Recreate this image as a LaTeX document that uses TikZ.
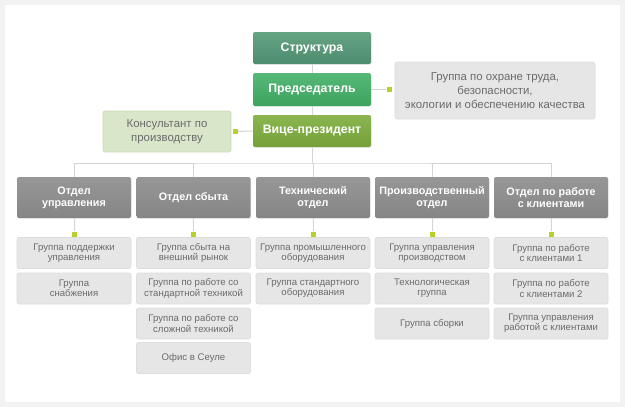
\documentclass[tikz,border=0pt]{standalone}
\usepackage{fontspec}
\setmainfont{Liberation Sans}
\usetikzlibrary{shadows}
\definecolor{bgout}{HTML}{F2F2F2}
\definecolor{lin}{HTML}{D4D4D4}
\definecolor{sqc}{HTML}{B8CF2C}
\definecolor{txg}{HTML}{6B6B6B}
\definecolor{strT}{HTML}{64A584}
\definecolor{strB}{HTML}{4D8B6D}
\definecolor{preT}{HTML}{55B878}
\definecolor{preB}{HTML}{3EA35F}
\definecolor{viceT}{HTML}{8BB64F}
\definecolor{viceB}{HTML}{75A13A}
\definecolor{depT}{HTML}{979797}
\definecolor{depB}{HTML}{858585}
\definecolor{subF}{HTML}{E6E6E6}
\definecolor{subD}{HTML}{DDDDDD}
\definecolor{consF}{HTML}{D9E6C9}
\definecolor{consD}{HTML}{CCDBBA}
\tikzset{
  topbox/.style={rectangle, rounded corners=2pt, minimum width=118pt, minimum height=32pt,
    text=white, font=\fontsize{12.3}{14}\selectfont\bfseries, inner sep=0pt,
    drop shadow={opacity=0.12, shadow xshift=0.6pt, shadow yshift=-0.8pt}},
  deptbox/.style={rectangle, rounded corners=2pt, minimum width=114pt, minimum height=41pt,
    text=white, font=\fontsize{10.8}{12.3}\selectfont\bfseries, align=center, inner sep=0pt,
    top color=depT, bottom color=depB,
    drop shadow={opacity=0.12, shadow xshift=0.6pt, shadow yshift=-0.8pt}},
  subbox/.style={rectangle, rounded corners=2pt, minimum width=114pt, minimum height=31pt,
    fill=subF, draw=subD, line width=0.6pt, text=txg,
    font=\fontsize{9.6}{10.3}\selectfont, align=center, inner sep=0pt},
  sidebox/.style={rectangle, rounded corners=2pt, text=txg,
    font=\fontsize{11.4}{14}\selectfont, align=center, inner sep=0pt, line width=0.6pt},
  sq/.style={rectangle, fill=sqc, minimum size=5pt, inner sep=0pt},
  conn/.style={draw=lin, line width=1pt}
}
\begin{document}
\begin{tikzpicture}[x=1pt,y=-1pt]
\useasboundingbox (0,0) rectangle (625,407);
\fill[bgout] (0,0) rectangle (625,407);
\fill[white] (5,5) rectangle (620,402);
% top chain
\node[topbox, top color=strT, bottom color=strB] (str) at (312,48) {Структура};
\node[topbox, top color=preT, bottom color=preB, minimum height=33pt] (pred) at (312,89.5) {Председатель};
\node[topbox, top color=viceT, bottom color=viceB] (vice) at (312,131) {Вице-президент};
\node[sidebox, fill=subF, draw=subD, minimum width=200pt, minimum height=57pt] (safety) at (495,90.5)
  {Группа по охране труда,\\безопасности,\\экологии и обеспечению качества};
\node[sidebox, fill=consF, draw=consD, minimum width=128pt, minimum height=41pt] (cons) at (167,131.5)
  {Консультант по\\производству};
\node[sq] (sqP) at (389,89.5) {};
\node[sq] (sqC) at (235.5,131.5) {};
\draw[conn] (str.south) -- (pred.north);
\draw[conn] (pred.south) -- (vice.north);
\draw[conn] (pred.east) -- (sqP.west);
\draw[conn] (vice.west) -- (sqC.east);
% departments
\node[deptbox] (d1) at (74,197.5) {Отдел\\управления};
\node[deptbox] (d2) at (193.5,197.5) {Отдел сбыта};
\node[deptbox] (d3) at (313,197.5) {Технический\\отдел};
\node[deptbox] (d4) at (432,197.5) {Производственный\\отдел};
\node[deptbox] (d5) at (551,197.5) {Отдел по работе\\с клиентами};
\coordinate (bus) at (312,163);
\draw[conn] (vice.south) -- (bus);
\draw[conn] (d1.north) |- (bus) -| (d5.north);
\draw[conn] (d2.north) -- (d2.north |- bus);
\draw[conn] (d3.north) -- (d3.north |- bus);
\draw[conn] (d4.north) -- (d4.north |- bus);
% squares under departments
\foreach \i/\x in {1/74,2/193.5,3/313,4/432,5/551}{
  \node[sq] (s\i) at (\x,234) {};
  \draw[conn] (d\i.south) -- (s\i.north);
}
% subgroups
\node[subbox] (a1) at (74,253) {Группа поддержки\\управления};
\node[subbox] (a2) at (74,288.5) {Группа\\снабжения};
\node[subbox] (b1) at (193.5,253) {Группа сбыта на\\внешний рынок};
\node[subbox] (b2) at (193.5,288.5) {Группа по работе со\\стандартной техникой};
\node[subbox] (b3) at (193.5,323.5) {Группа по работе со\\сложной техникой};
\node[subbox] (b4) at (193.5,358) {Офис в Сеуле};
\node[subbox] (c1) at (313,253) {Группа промышленного\\оборудования};
\node[subbox] (c2) at (313,288.5) {Группа стандартного\\оборудования};
\node[subbox] (e1) at (432,253) {Группа управления\\производством};
\node[subbox] (e2) at (432,288.5) {Технологическая\\группа};
\node[subbox] (e3) at (432,323.5) {Группа сборки};
\node[subbox] (f1) at (551,253) {Группа по работе\\с клиентами 1};
\node[subbox] (f2) at (551,288.5) {Группа по работе\\с клиентами 2};
\node[subbox] (f3) at (551,323.5) {Группа управления\\работой с клиентами};
\end{tikzpicture}
\end{document}
